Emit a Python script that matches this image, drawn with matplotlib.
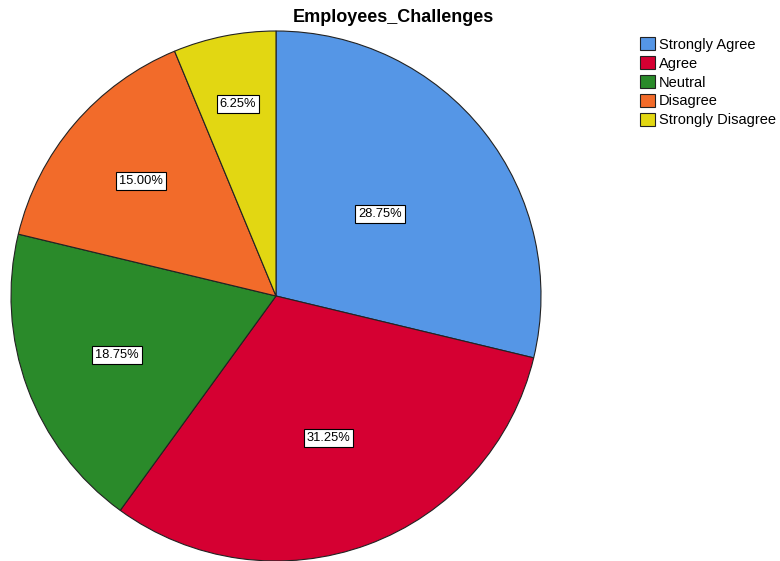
import numpy as np
import matplotlib.pyplot as plt
from matplotlib.patches import Patch

plt.rcParams['font.family'] = ['Liberation Sans', 'DejaVu Sans']

# data
categories = ['Strongly Agree', 'Agree', 'Neutral', 'Disagree', 'Strongly Disagree']
percents = [28.75, 31.25, 18.75, 15.00, 6.25]
colors = ['#5596E6', '#D50032', '#2A8A2A', '#F26B2A', '#E2D712']
# how far out each value label sits (fraction of radius)
label_r = [0.50, 0.57, 0.64, 0.67, 0.74]

W, H = 780, 561
fig = plt.figure(figsize=(W / 100, H / 100), dpi=100)

cx, cy, r = 276, 296, 265
ax = fig.add_axes([(cx - r) / W, (H - cy - r) / H, 2 * r / W, 2 * r / H])

wedges, _ = ax.pie(percents, colors=colors, startangle=90, counterclock=False,
                   wedgeprops=dict(edgecolor='#222222', linewidth=0.8))
for w, p, lr in zip(wedges, percents, label_r):
    ang = np.deg2rad((w.theta1 + w.theta2) / 2)
    ax.text(lr * np.cos(ang), lr * np.sin(ang), f'{p:.2f}%', ha='center', va='center',
            fontsize=9.3,
            bbox=dict(facecolor='white', edgecolor='black', boxstyle='square,pad=0.22', linewidth=0.8))
ax.set_xlim(-1.0, 1.0)
ax.set_ylim(-1.0, 1.0)
ax.set_aspect('equal')

fig.text(393 / W, 1 - 17 / H, 'Employees_Challenges', ha='center', va='center',
         fontsize=13, fontweight='bold')

handles = [Patch(facecolor=c, edgecolor='#222222', linewidth=0.8) for c in colors]
fig.legend(handles, categories, loc='upper left', bbox_to_anchor=(633 / W, 1 - 30 / H),
           frameon=False, fontsize=10.5, handlelength=1.0, handleheight=1.0,
           handletextpad=0.25, labelspacing=0.3, borderpad=0)

fig.savefig('out.png', dpi=100)
